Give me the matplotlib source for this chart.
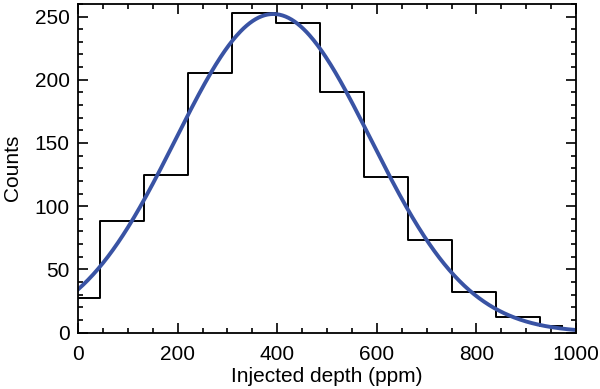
import numpy as np
import matplotlib
matplotlib.use('Agg')
import matplotlib.pyplot as plt
from matplotlib.ticker import MultipleLocator

# histogram of injected depths (bin centres in ppm, counts)
bin_centers = np.linspace(0, 972.4, 12)
counts = [27, 88, 125, 205, 253, 245, 190, 123, 73, 32, 12, 5]

# gaussian fit to the histogram
fit_amp = 252.0
fit_mu = 392.0
fit_sigma = 196.0

plt.rcParams['font.family'] = ['Liberation Sans', 'DejaVu Sans']
plt.rcParams['font.size'] = 15

fig = plt.figure(figsize=(6, 3.89), dpi=100)
ax = fig.add_axes([0.13, 0.145, 0.83, 0.845])

ax.step(bin_centers, counts, where='mid', color='black', lw=1.4)

xx = np.linspace(0, 1000, 500)
yy = fit_amp * np.exp(-(xx - fit_mu)**2 / (2 * fit_sigma**2))
ax.plot(xx, yy, color='#3953a4', lw=2.8)

ax.set_xlim(0, 1000)
ax.set_ylim(0, 260)
ax.xaxis.set_major_locator(MultipleLocator(200))
ax.xaxis.set_minor_locator(MultipleLocator(50))
ax.yaxis.set_major_locator(MultipleLocator(50))
ax.yaxis.set_minor_locator(MultipleLocator(10))
ax.tick_params(which='both', direction='in', top=True, right=True, width=1.2)
ax.tick_params(which='major', length=7)
ax.tick_params(which='minor', length=3.5)
ax.tick_params(axis='x', which='major', pad=9)
ax.tick_params(axis='y', which='major', pad=6)
for s in ax.spines.values():
    s.set_linewidth(1.3)

ax.set_xlabel('Injected depth (ppm)', labelpad=2)
ax.set_ylabel('Counts', labelpad=9)

plt.savefig('out.png')
